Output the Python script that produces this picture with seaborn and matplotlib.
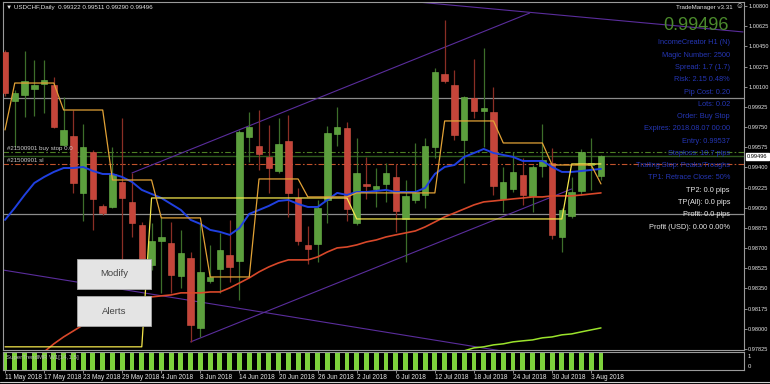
import numpy as np
import pandas as pd
import seaborn as sns
import matplotlib.pyplot as plt
import matplotlib.transforms as mtransforms
from matplotlib.patches import Rectangle
from matplotlib.lines import Line2D

sns.set_theme(style='dark', rc={'axes.facecolor': 'black', 'figure.facecolor': 'black'})
plt.rcParams['font.family'] = ['Liberation Sans', 'DejaVu Sans']

# USDCHF daily candles, 11 May 2018 .. 6 Aug 2018
opens = [1.00401, 0.99976, 1.00028, 1.00080, 1.00124, 1.00115, 0.99595, 0.99673, 0.99179, 0.99534,
         0.99066, 0.99057, 0.99274, 0.99101, 0.98901, 0.98554, 0.98763, 0.98745, 0.98459, 0.98615,
         0.98008, 0.98416, 0.98520, 0.98641, 0.98589, 0.99664, 0.99586, 0.99491, 0.99369, 0.99630,
         0.99135, 0.98728, 0.98737, 0.99118, 0.99690, 0.99742, 0.98919, 0.99257, 0.99213, 0.99257,
         0.99317, 0.98953, 0.99118, 0.99161, 0.99578, 1.00210, 1.00115, 0.99638, 1.00002, 0.99890,
         0.99881, 0.99127, 0.99213, 0.99335, 0.99153, 0.99413, 0.99439, 0.98797, 0.98979, 0.99196,
         0.99421, 0.99322]
highs = [1.00419, 1.00072, 1.00410, 1.00332, 1.00332, 1.00184, 1.00011, 0.99898, 0.99777, 0.99552,
         0.99083, 0.99578, 0.99829, 0.99352, 0.98927, 0.98919, 0.98971, 0.98927, 0.98858, 0.98667,
         0.98919, 0.98728, 0.98832, 0.98945, 0.99725, 0.99881, 0.99898, 0.99768, 0.99829, 0.99855,
         0.99222, 0.98893, 0.99118, 0.99760, 0.99924, 0.99794, 0.99656, 0.99491, 0.99395, 0.99439,
         0.99430, 0.99291, 0.99612, 0.99656, 1.00262, 1.00679, 1.00245, 1.00020, 1.00341, 1.00436,
         1.00098, 0.99404, 0.99534, 0.99482, 0.99421, 0.99777, 0.99569, 0.99049, 0.99317, 0.99560,
         0.99656, 0.99511]
lows = [1.00020, 0.99578, 0.99838, 0.99846, 0.99872, 0.99742, 0.99586, 0.99179, 0.98936, 0.98858,
        0.98988, 0.99049, 0.98598, 0.98797, 0.98424, 0.98511, 0.98312, 0.98312, 0.98355, 0.97887,
        0.97930, 0.98398, 0.98312, 0.98407, 0.98251, 0.99447, 0.99378, 0.99179, 0.99352, 0.98971,
        0.98728, 0.98563, 0.98581, 0.98919, 0.99586, 0.98936, 0.98901, 0.99127, 0.99057, 0.99101,
        0.98841, 0.98581, 0.99092, 0.99049, 0.99482, 1.00132, 0.99638, 0.99265, 0.99829, 0.99578,
        0.99161, 0.99014, 0.99187, 0.99075, 0.99014, 0.99317, 0.98780, 0.98667, 0.98962, 0.99161,
        0.99205, 0.99290]
closes = [1.00046, 1.00046, 1.00150, 1.00115, 1.00158, 0.99751, 0.99725, 0.99265, 0.99578, 0.99127,
          0.99005, 0.99343, 0.99135, 0.98919, 0.98528, 0.98763, 0.98797, 0.98468, 0.98659, 0.98034,
          0.98494, 0.98450, 0.98685, 0.98537, 0.99708, 0.99751, 0.99517, 0.99395, 0.99604, 0.99179,
          0.98763, 0.98693, 0.99049, 0.99699, 0.99751, 0.99040, 0.99352, 0.99239, 0.99239, 0.99352,
          0.99023, 0.99153, 0.99179, 0.99586, 1.00228, 1.00150, 0.99682, 1.00011, 0.99890, 0.99916,
          0.99239, 0.99274, 0.99361, 0.99161, 0.99404, 0.99465, 0.98815, 0.99031, 0.99187, 0.99534,
          0.99439, 0.99496]

# indicators, one value per bar
fast_ma = [0.98945, 0.99049, 0.99161, 0.99265, 0.99317, 0.99361, 0.99395, 0.99395, 0.99404, 0.99369,
           0.99343, 0.99343, 0.99317, 0.99274, 0.99205, 0.99170, 0.99135, 0.99083, 0.99031, 0.98945,
           0.98910, 0.98858, 0.98841, 0.98815, 0.98875, 0.98997, 0.99031, 0.99066, 0.99109, 0.99118,
           0.99083, 0.99057, 0.99057, 0.99118, 0.99179, 0.99161, 0.99187, 0.99187, 0.99196, 0.99205,
           0.99187, 0.99187, 0.99187, 0.99222, 0.99343, 0.99404, 0.99421, 0.99491, 0.99525, 0.99560,
           0.99525, 0.99508, 0.99491, 0.99456, 0.99456, 0.99456, 0.99404, 0.99361, 0.99361, 0.99369,
           0.99378, 0.99387]
slow_ma = [None, None, None, None, 0.97800, 0.97870, 0.97930, 0.97982, 0.98034, 0.98078,
           0.98130, 0.98164, 0.98208, 0.98242, 0.98268, 0.98277, 0.98286, 0.98294, 0.98312, 0.98312,
           0.98312, 0.98320, 0.98320, 0.98355, 0.98398, 0.98442, 0.98494, 0.98537, 0.98572, 0.98598,
           0.98598, 0.98598, 0.98624, 0.98667, 0.98702, 0.98710, 0.98728, 0.98754, 0.98771, 0.98797,
           0.98815, 0.98832, 0.98849, 0.98884, 0.98927, 0.98971, 0.99005, 0.99040, 0.99075, 0.99101,
           0.99109, 0.99118, 0.99127, 0.99135, 0.99144, 0.99144, 0.99153, 0.99153, 0.99153, 0.99161,
           0.99170, 0.99179]
long_ma = [None] * 47 + [0.97809, 0.97835, 0.97844, 0.97861, 0.97870, 0.97887, 0.97896, 0.97904,
                         0.97922, 0.97930, 0.97948, 0.97956, 0.97974, 0.97991, 0.98008]
trail_orange = ([0.99725] + [1.00132] * 5 + [0.99898] * 5 + [0.99291] * 5 + [0.98962] * 5
                + [0.98450] * 5 + [0.99300] * 5 + [0.99144] * 5 + [0.99179] * 9 + [0.99803] * 6
                + [0.99612] * 5 + [0.99421] * 5 + [0.99257])
trail_yellow = [0.97844] * 15 + [0.99135] * 21 + [0.98953] * 22 + [0.99430] * 4
supertrend = [1] * 62

# drawn trend lines: (bar, price) end points
trend_lines = [((42.17, 1.00835), (75.54, 1.00575)),
               ((13.0, 0.99352), (53.7, 1.00739)),
               ((19.0, 0.97887), (58.0, 0.99213)),
               ((-0.2, 0.98510), (52.0, 0.97792))]

round_levels = [1.00000, 0.99000]
entry_price = 0.99537
bid_price = 0.99496
sl_price = 0.99430

price_ticks = [0.97825 + 0.00175 * k for k in range(18)]
date_idx = list(range(0, 61, 4))
date_labels = ['11 May 2018', '17 May 2018', '23 May 2018', '29 May 2018', '4 Jun 2018',
               '8 Jun 2018', '14 Jun 2018', '20 Jun 2018', '26 Jun 2018', '2 Jul 2018',
               '6 Jul 2018', '12 Jul 2018', '18 Jul 2018', '24 Jul 2018', '30 Jul 2018',
               '3 Aug 2018']

panel_lines = [('IncomeCreator H1 (N)', 'b'), ('Magic Number: 2500', 'b'),
               ('Spread: 1.7 (1.7)', 'b'), ('Risk: 2.15 0.48%', 'b'), ('Pip Cost: 0.20', 'b'),
               ('Lots: 0.02', 'b'), ('Order: Buy Stop', 'b'), ('Expires: 2018.08.07 00:00', 'b'),
               ('Entry: 0.99537', 'b'), ('Stoploss: 10.7 pips', 'b'),
               ('Trailing Stop: Peaks/Troughs', 'b'), ('TP1: Retrace Close: 50%', 'b'),
               ('TP2: 0.0 pips', 'w'), ('TP(All): 0.0 pips', 'w'), ('Profit: 0.0 pips', 'w'),
               ('Profit (USD): 0.00 0.00%', 'w')]

W, H = 770, 384
bars = np.arange(len(opens))
df = pd.DataFrame({'bar': bars, 'open': opens, 'high': highs, 'low': lows, 'close': closes,
                   'fast': fast_ma, 'slow': pd.to_numeric(pd.Series(slow_ma), errors='coerce'),
                   'long': pd.to_numeric(pd.Series(long_ma), errors='coerce'),
                   'orange': trail_orange, 'yellow': trail_yellow})

fig = plt.figure(figsize=(W / 100, H / 100), dpi=100)
ax = fig.add_axes([3 / W, 1 - 350 / H, 741 / W, 348 / H])
sub = fig.add_axes([3 / W, 1 - 370 / H, 741 / W, 18 / H])

xlim = (-0.205, 75.64)

# levels
for lv in round_levels:
    ax.axhline(lv, color='#8c8c8c', lw=0.9, zorder=1)
ax.axhline(entry_price, color='#4d7f24', lw=0.8, ls=(0, (5, 2, 1.5, 2)), zorder=1.5)
ax.axhline(bid_price, color='#2f5a1d', lw=1.0, zorder=1.5)
ax.axhline(sl_price, color='#c2532c', lw=0.8, ls=(0, (5, 2, 1.5, 2)), zorder=1.5)

for (x0, y0), (x1, y1) in trend_lines:
    ax.plot([x0, x1], [y0, y1], color='#5a2d9c', lw=0.8, zorder=1.8)

# candles
up = df['close'] >= df['open']
body_col = np.where(up, '#5c9f3d', '#c5453a')
edge_col = np.where(up, '#6cb64a', '#d25545')
wick_col = np.where(up, '#3d6e2a', '#8a2e25')
ax.vlines(df['bar'], df['low'], df['high'], colors=wick_col, lw=0.9, zorder=2.5)
body_h = np.maximum((df['close'] - df['open']).abs(), 0.00012)
ax.bar(df['bar'], body_h, bottom=np.minimum(df['open'], df['close']), width=0.66,
       color=body_col, edgecolor=edge_col, linewidth=0.4, zorder=3)

# indicator lines
sns.lineplot(data=df, x='bar', y='slow', ax=ax, color='#d8482a', lw=1.2, zorder=4)
sns.lineplot(data=df, x='bar', y='long', ax=ax, color='#9be32c', lw=1.1, zorder=4)
sns.lineplot(data=df, x='bar', y='fast', ax=ax, color='#2040e0', lw=1.4, zorder=4)
sns.lineplot(data=df, x='bar', y='orange', ax=ax, color='#e2a236', lw=0.9, zorder=4.2)
sns.lineplot(data=df, x='bar', y='yellow', ax=ax, color='#f4e64c', lw=0.9, zorder=4.1)

ax.set_xlim(*xlim)
ax.set_ylim(0.978165, 1.008347)
ax.set_xlabel('')
ax.set_ylabel('')
ax.set_xticks([])
ax.yaxis.tick_right()
ax.set_yticks(price_ticks)
ax.set_yticklabels([f'{v:.5f}' for v in price_ticks])
ax.tick_params(axis='y', right=True, left=False, labelsize=4.1, labelcolor='#e6e6e6',
               color='#a0a0a0', length=2, width=0.6, pad=1.0, direction='out')
for sp in ax.spines.values():
    sp.set_visible(True)
    sp.set_color('#9a9a9a')
    sp.set_linewidth(0.8)

trans = mtransforms.blended_transform_factory(ax.transAxes, ax.transData)
ax.text(1.004, bid_price, f'{bid_price:.5f}', transform=trans, fontsize=4.1, color='black',
        ha='left', va='center', clip_on=False, zorder=10,
        bbox=dict(boxstyle='square,pad=0.2', fc='white', ec='white'))

# SuperTrend panel
sub.bar(df['bar'], supertrend, width=0.5, color='#7ed23c', edgecolor='none', linewidth=0,
        zorder=2)
sub.set_xlim(*xlim)
sub.set_ylim(0, 1)
sub.set_yticks([])
sub.set_xticks(date_idx)
sub.set_xticklabels(date_labels, ha='left')
sub.tick_params(axis='x', bottom=True, labelsize=4.7, labelcolor='#e6e6e6', color='#a0a0a0',
                length=2, width=0.6, pad=1)
for sp in sub.spines.values():
    sp.set_visible(True)
    sp.set_color('#9a9a9a')
    sp.set_linewidth(0.8)


def ftext(x, y, s, **kw):
    fig.text(x / W, 1 - y / H, s, va='center', zorder=20, **kw)


ftext(6, 357, 'SuperTrendMR W1[14,1.5]', fontsize=4.4, color='#b8b8b8')
ftext(748, 357, '1', fontsize=4.3, color='#e6e6e6')
ftext(748, 366, '0', fontsize=4.3, color='#e6e6e6')

ftext(6, 7, '▼ USDCHF,Daily  0.99322 0.99511 0.99290 0.99496', fontsize=4.5, color='#e6e6e6')
ftext(7, 148, '#21500901 buy stop 0.0', fontsize=4.4, color='#cfcfcf')
ftext(7, 160, '#21500901 sl', fontsize=4.4, color='#cfcfcf')

ftext(733, 7, 'TradeManager v3.31', fontsize=4.4, color='#e6e6e6', ha='right')
ftext(739, 7, '☺', fontsize=5.5, color='#e6e6e6', ha='center')
ftext(729, 25, f'{bid_price:.5f}', fontsize=13, color='#4b8a2c', ha='right')
for k, (s, c) in enumerate(panel_lines):
    ftext(730, 43 + 12.27 * k, s, fontsize=5.3, ha='right',
          color='#2536b4' if c == 'b' else '#e8e8e8')

# buttons
for label, top in [('Modify', 259), ('Alerts', 296)]:
    fig.add_artist(Rectangle((77 / W, 1 - (top + 30) / H), 74 / W, 30 / H,
                             transform=fig.transFigure, fc='#e4e4e4', ec='#a8a8a8',
                             lw=0.6, zorder=15))
    ftext(114, top + 15, label, fontsize=6.8, color='#444444', ha='center')

# window bottom edge
fig.add_artist(Line2D([0, 1], [1 - 382 / H] * 2, transform=fig.transFigure,
                      color='#d0d0d0', lw=0.8))

fig.savefig('out.png', dpi=100, facecolor='black')
